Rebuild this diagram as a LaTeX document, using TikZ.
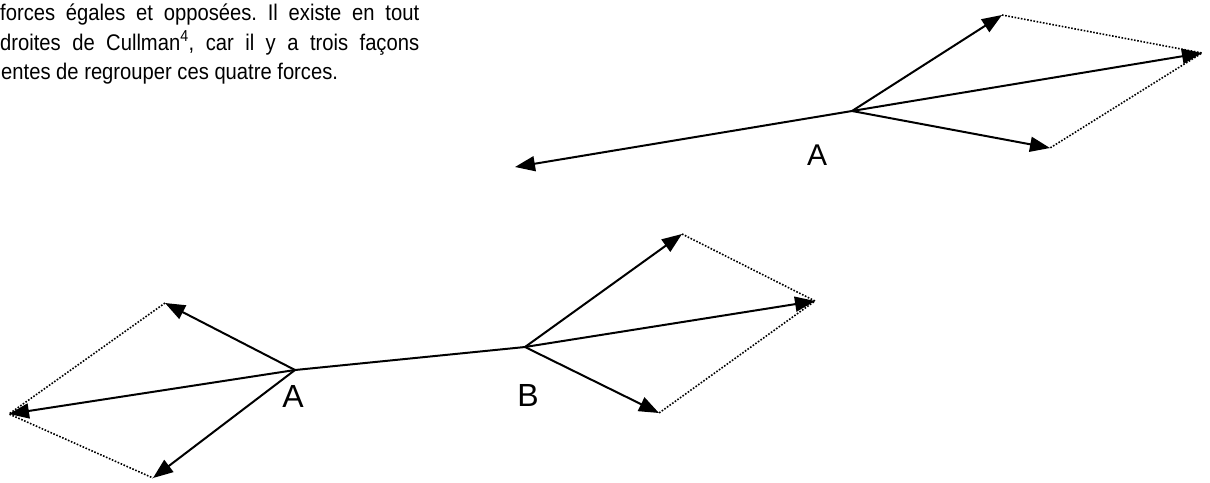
\documentclass[tikz,border=0pt]{standalone}
\usepackage{fontspec}
\usepackage{graphicx}
\setmainfont{Liberation Sans}
\usetikzlibrary{arrows.meta}
\frenchspacing
\newcommand{\tallline}[1]{\scalebox{1}[1.12]{#1}}
\begin{document}
\begin{tikzpicture}[x=1pt,y=-1pt,
  force/.style={line width=2pt, -{Triangle[length=20pt,width=15pt]}},
  shaft/.style={line width=2pt},
  constr/.style={line width=1.6pt, dash pattern=on 1.6pt off 1.6pt},
  txtline/.style={anchor=base west, inner sep=0pt, font=\fontsize{20.2}{24}\selectfont},
  lbl/.style={inner sep=0pt, font=\fontsize{30}{30}\selectfont}]
\useasboundingbox (0,0) rectangle (1210,482);
% text
\node[txtline] (txt1) at (0,20.5) {\tallline{\hbox to 419pt{forces égales et opposées. Il existe en tout}}};
\node[txtline] (txt2) at (0,50) {\tallline{\hbox to 419pt{droites de Cullman\textsuperscript{4}, car il y a trois façons}}};
\node[txtline] (txt3) at (1,79) {\tallline{entes de regrouper ces quatre forces.}};
% top diagram
\coordinate (A1) at (852,111);
\coordinate (u1) at (1002,15);
\coordinate (r1) at (1202,53);
\coordinate (d1) at (1050,148);
\coordinate (l1) at (515,167);
\draw[force] (A1) -- (u1);
\draw[force] (A1) -- (r1);
\draw[force] (A1) -- (d1);
\draw[force] (A1) -- (l1);
\draw[constr] (u1) -- (r1) -- (d1);
\node[lbl] (lA1) at (817,155) {A};
% bottom diagram
\coordinate (A2) at (295,370);
\coordinate (B2) at (525,347);
\coordinate (ua) at (165,303);
\coordinate (la) at (9,414);
\coordinate (da) at (153,478);
\coordinate (ub) at (682,234);
\coordinate (rb) at (815,301);
\coordinate (db) at (659,413);
\draw[shaft] (A2) -- (B2);
\draw[force] (A2) -- (ua);
\draw[force] (A2) -- (la);
\draw[force] (A2) -- (da);
\draw[force] (B2) -- (ub);
\draw[force] (B2) -- (rb);
\draw[force] (B2) -- (db);
\draw[constr] (ua) -- (la) -- (da);
\draw[constr] (ub) -- (rb) -- (db);
\node[lbl, font=\fontsize{32}{32}\selectfont] (lA2) at (293,396) {A};
\node[lbl, font=\fontsize{32}{32}\selectfont] (lB2) at (528,395) {B};
\end{tikzpicture}
\end{document}
